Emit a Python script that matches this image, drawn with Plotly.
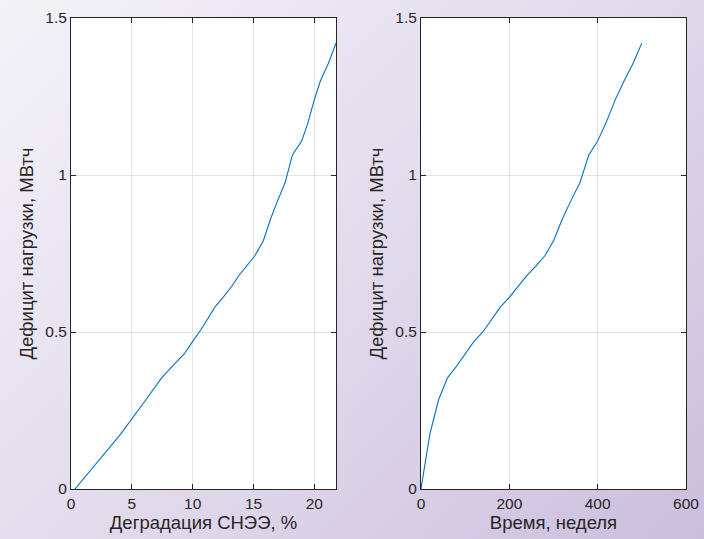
import plotly.graph_objects as go

# Data
weeks = [0, 20, 40, 60, 80, 100, 120, 140, 160, 180, 200, 220, 240, 260,
         280, 300, 320, 340, 360, 380, 400, 420, 440, 460, 480, 500]
degradation = [0.33, 4.08, 6.17, 7.45, 8.3, 9.3, 10.0, 10.55, 11.2, 11.84,
               12.5, 13.2, 13.8, 14.4, 15.1, 15.8, 16.4, 17.0, 17.6, 18.2,
               18.96, 19.5, 20.0, 20.5, 21.15, 21.78]
deficit = [0.0, 0.175, 0.285, 0.354, 0.39, 0.43, 0.47, 0.50, 0.54, 0.58,
           0.61, 0.645, 0.68, 0.71, 0.742, 0.79, 0.86, 0.92, 0.976, 1.064,
           1.108, 1.17, 1.24, 1.30, 1.355, 1.42]

x1_ticks = [0, 5, 10, 15, 20]
x2_ticks = [0, 200, 400, 600]
y_ticks = [0, 0.5, 1, 1.5]
y_ticktext = ["0", "0.5", "1", "1.5"]

x1_title = "Деградация СНЭЭ, %"
x2_title = "Время, неделя"
y_title = "Дефицит нагрузки, МВтч"

W, H = 704, 539
line_color = "#0072BD"
axis_color = "#262626"
grid_color = "#e3e3e3"
font_family = "Liberation Sans, Arial, sans-serif"

fig = go.Figure()
fig.add_trace(go.Scatter(x=degradation, y=deficit, mode="lines",
                         line=dict(color=line_color, width=1.1),
                         xaxis="x", yaxis="y", showlegend=False))
fig.add_trace(go.Scatter(x=weeks, y=deficit, mode="lines",
                         line=dict(color=line_color, width=1.1),
                         xaxis="x2", yaxis="y2", showlegend=False))

ydom = [1 - 489 / H, 1 - 18 / H]

def xax(domain, rng, ticks, title, anchor):
    return dict(domain=domain, range=rng, tickvals=ticks,
                ticks="inside", ticklen=5, tickcolor=axis_color,
                showline=True, linecolor=axis_color, linewidth=1, mirror="ticks",
                showgrid=True, gridcolor=grid_color, gridwidth=1, zeroline=False,
                tickfont=dict(family=font_family, size=15.5, color=axis_color),
                title=dict(text=title, standoff=4,
                           font=dict(family=font_family, size=18.5, color=axis_color)),
                anchor=anchor, fixedrange=True, automargin=False)

def yax(anchor):
    return dict(domain=ydom, range=[0, 1.5], tickvals=y_ticks, ticktext=y_ticktext,
                ticks="inside", ticklen=5, tickcolor=axis_color,
                showline=True, linecolor=axis_color, linewidth=1, mirror="ticks",
                showgrid=True, gridcolor=grid_color, gridwidth=1, zeroline=False,
                tickfont=dict(family=font_family, size=15.5, color=axis_color),
                title=dict(text=y_title, standoff=6,
                           font=dict(family=font_family, size=18.5, color=axis_color)),
                anchor=anchor, fixedrange=True, automargin=False)

fig.update_layout(
    width=W, height=H,
    margin=dict(l=0, r=0, t=0, b=0),
    paper_bgcolor="rgba(0,0,0,0)",
    plot_bgcolor="white",
    xaxis=xax([71 / W, 336 / W], [0, 21.78], x1_ticks, x1_title, "y"),
    yaxis=yax("x"),
    xaxis2=xax([421 / W, 686 / W], [0, 600], x2_ticks, x2_title, "y2"),
    yaxis2=yax("x2"),
)

post = """
document.body.style.margin = '0';
document.body.style.padding = '0';
var d = document.getElementById('{plot_id}');
d.style.background = 'linear-gradient(135deg, #f4f3f8 0%, #e2dbec 50%, #cbbfdd 100%)';
d.style.width = '704px';
d.style.height = '539px';
"""

fig.write_html("out.html", post_script=post, config={"displayModeBar": False})
